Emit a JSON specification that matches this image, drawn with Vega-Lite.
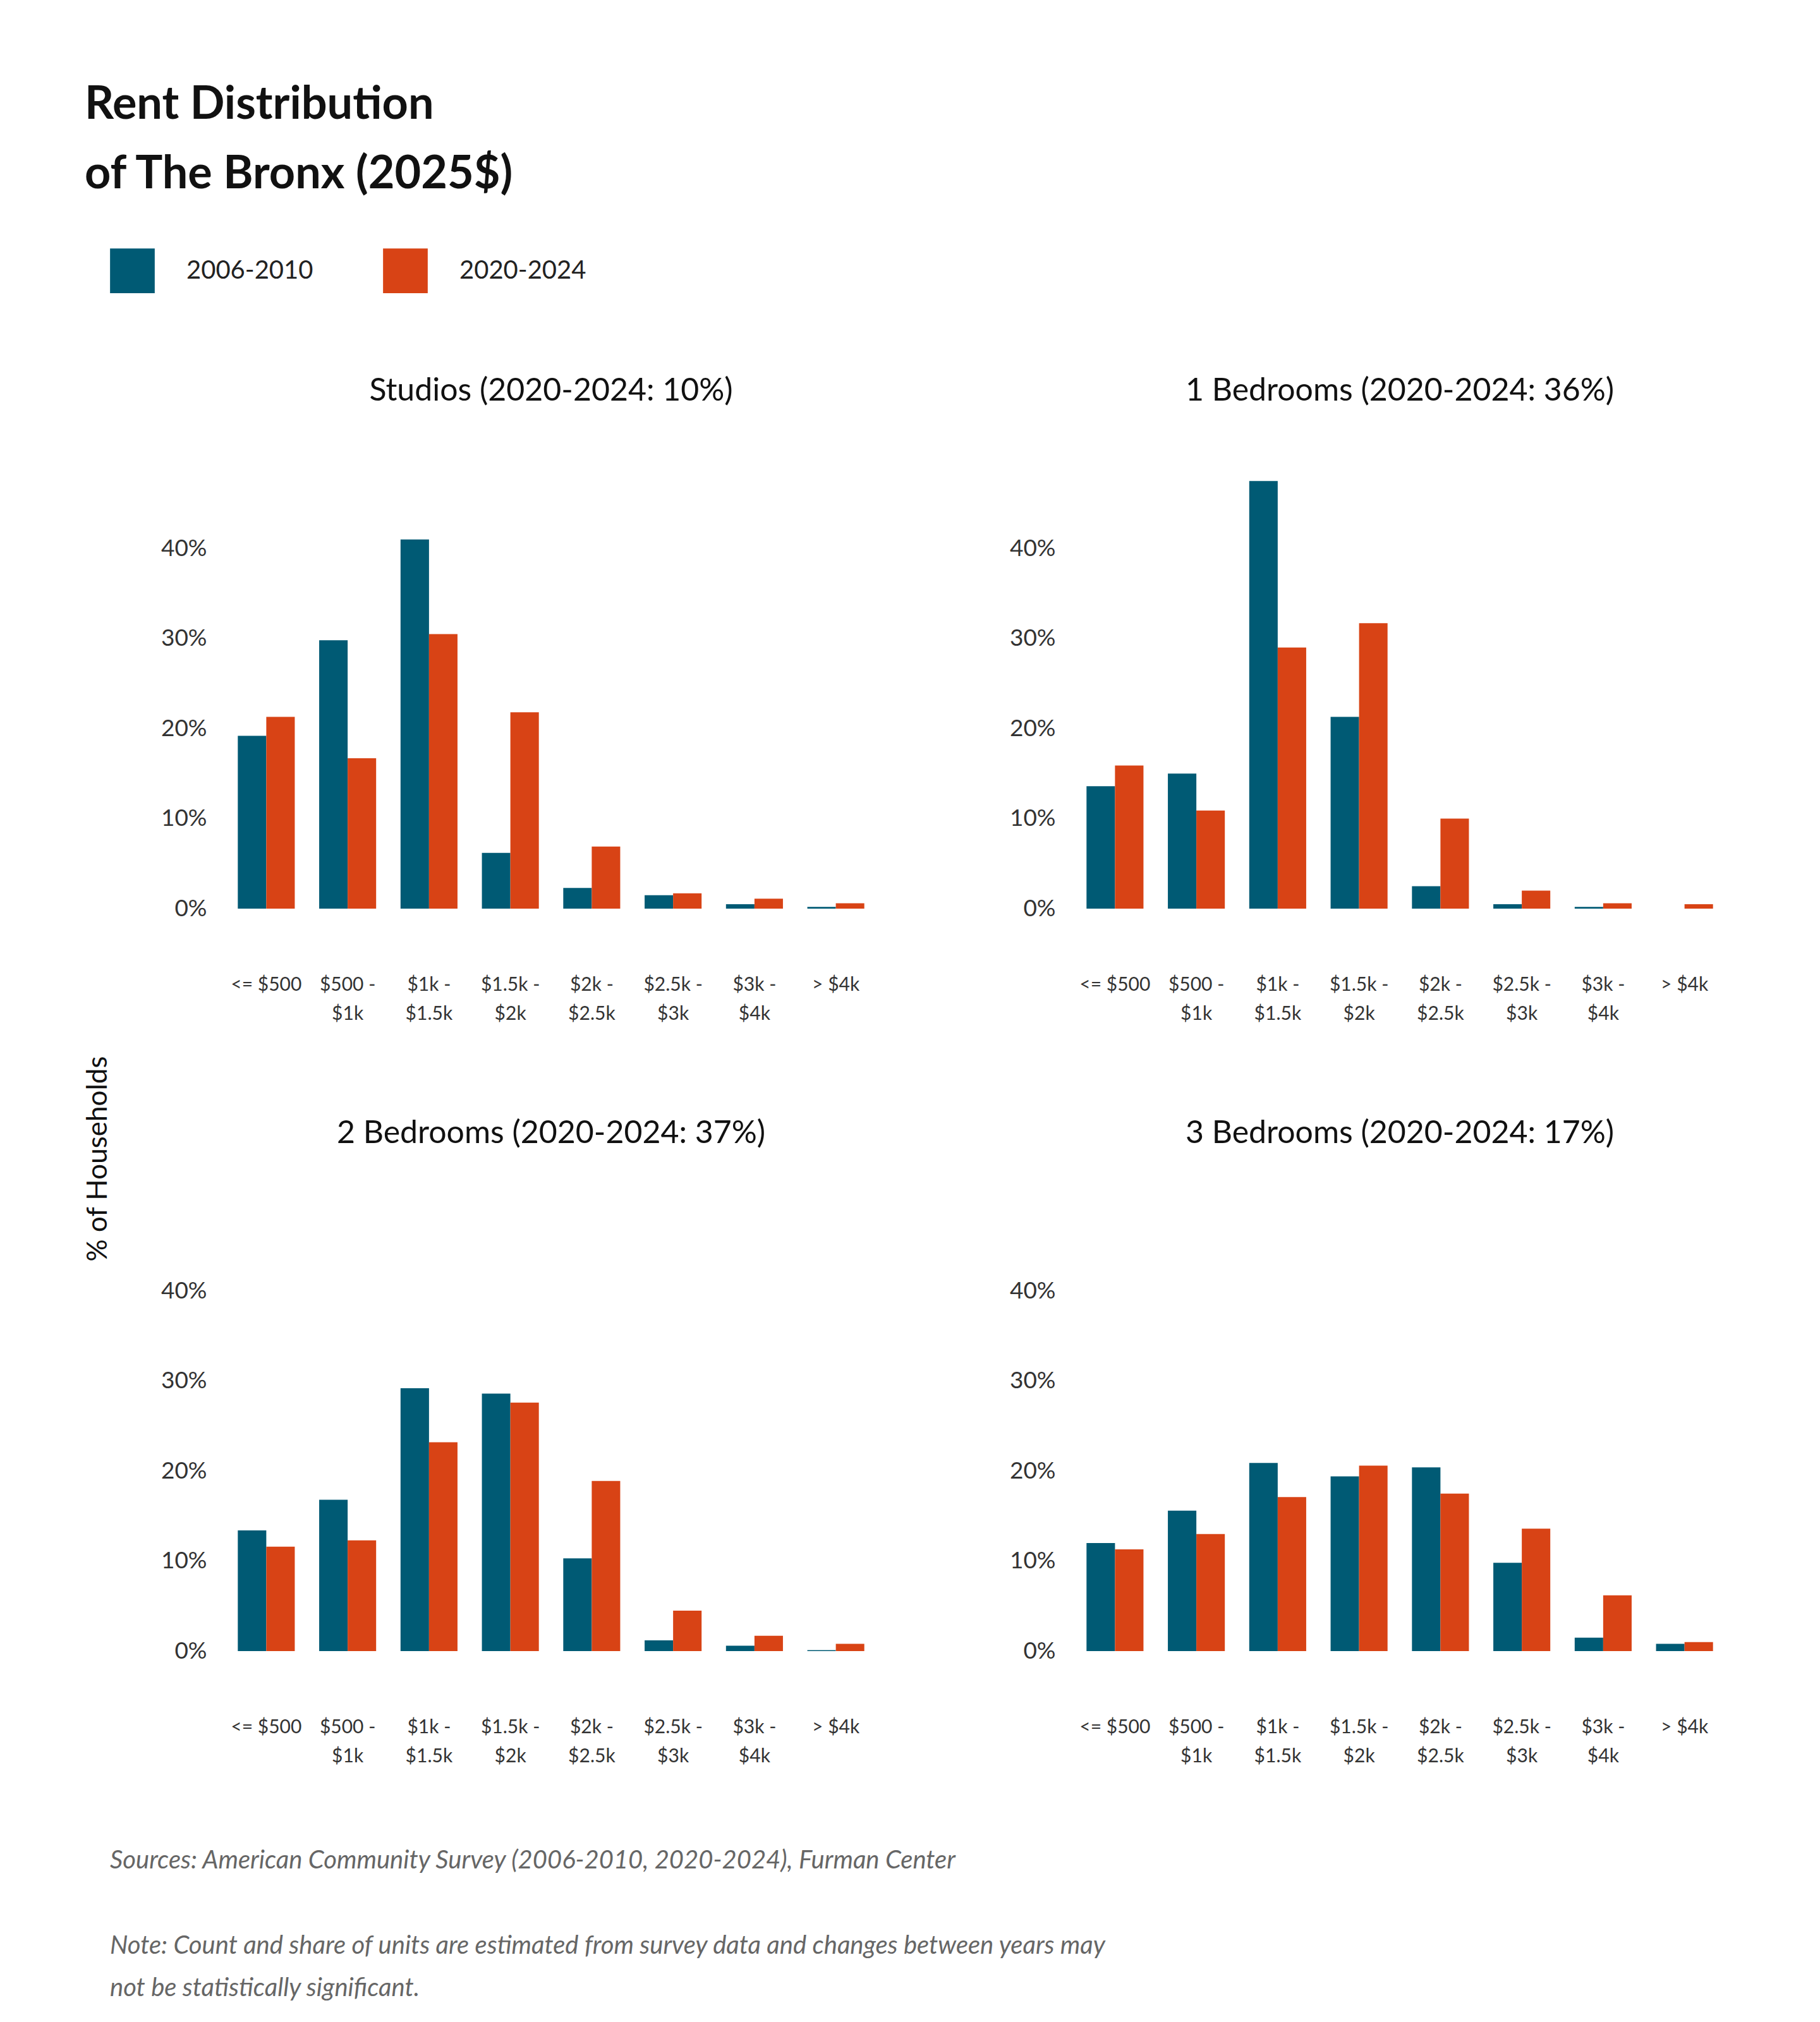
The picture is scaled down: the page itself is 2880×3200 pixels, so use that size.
{
  "$schema": "https://vega.github.io/schema/vega-lite/v6.json",
  "padding": {"left": 134, "top": 130, "right": 60, "bottom": 60},
  "background": "white",
  "title": {
    "text": ["Rent Distribution", "of The Bronx (2025$)"],
    "anchor": "start",
    "font": "Lato",
    "fontWeight": "bold",
    "fontSize": 72,
    "lineHeight": 110,
    "color": "#111111",
    "offset": 80
  },
  "config": {
    "font": "Lato",
    "view": {"stroke": null},
    "legend": {
      "orient": "top",
      "direction": "horizontal",
      "title": null,
      "symbolType": "square",
      "symbolSize": 5000,
      "symbolStrokeWidth": 0,
      "labelFontSize": 40,
      "labelColor": "#222222",
      "labelFont": "Lato",
      "labelLimit": 400,
      "columnPadding": 110,
      "labelOffset": 50,
      "offset": 130
    }
  },
  "datasets": {
    "rent": [
      {"panel": "Studios (2020-2024: 10%)", "bin": "<= $500", "period": "2006-2010", "share": 0.192},
      {"panel": "Studios (2020-2024: 10%)", "bin": "$500 - $1k", "period": "2006-2010", "share": 0.298},
      {"panel": "Studios (2020-2024: 10%)", "bin": "$1k - $1.5k", "period": "2006-2010", "share": 0.41},
      {"panel": "Studios (2020-2024: 10%)", "bin": "$1.5k - $2k", "period": "2006-2010", "share": 0.062},
      {"panel": "Studios (2020-2024: 10%)", "bin": "$2k - $2.5k", "period": "2006-2010", "share": 0.023},
      {"panel": "Studios (2020-2024: 10%)", "bin": "$2.5k - $3k", "period": "2006-2010", "share": 0.015},
      {"panel": "Studios (2020-2024: 10%)", "bin": "$3k - $4k", "period": "2006-2010", "share": 0.005},
      {"panel": "Studios (2020-2024: 10%)", "bin": "> $4k", "period": "2006-2010", "share": 0.002},
      {"panel": "Studios (2020-2024: 10%)", "bin": "<= $500", "period": "2020-2024", "share": 0.213},
      {"panel": "Studios (2020-2024: 10%)", "bin": "$500 - $1k", "period": "2020-2024", "share": 0.167},
      {"panel": "Studios (2020-2024: 10%)", "bin": "$1k - $1.5k", "period": "2020-2024", "share": 0.305},
      {"panel": "Studios (2020-2024: 10%)", "bin": "$1.5k - $2k", "period": "2020-2024", "share": 0.218},
      {"panel": "Studios (2020-2024: 10%)", "bin": "$2k - $2.5k", "period": "2020-2024", "share": 0.069},
      {"panel": "Studios (2020-2024: 10%)", "bin": "$2.5k - $3k", "period": "2020-2024", "share": 0.017},
      {"panel": "Studios (2020-2024: 10%)", "bin": "$3k - $4k", "period": "2020-2024", "share": 0.011},
      {"panel": "Studios (2020-2024: 10%)", "bin": "> $4k", "period": "2020-2024", "share": 0.006},
      {"panel": "1 Bedrooms (2020-2024: 36%)", "bin": "<= $500", "period": "2006-2010", "share": 0.136},
      {"panel": "1 Bedrooms (2020-2024: 36%)", "bin": "$500 - $1k", "period": "2006-2010", "share": 0.15},
      {"panel": "1 Bedrooms (2020-2024: 36%)", "bin": "$1k - $1.5k", "period": "2006-2010", "share": 0.475},
      {"panel": "1 Bedrooms (2020-2024: 36%)", "bin": "$1.5k - $2k", "period": "2006-2010", "share": 0.213},
      {"panel": "1 Bedrooms (2020-2024: 36%)", "bin": "$2k - $2.5k", "period": "2006-2010", "share": 0.025},
      {"panel": "1 Bedrooms (2020-2024: 36%)", "bin": "$2.5k - $3k", "period": "2006-2010", "share": 0.005},
      {"panel": "1 Bedrooms (2020-2024: 36%)", "bin": "$3k - $4k", "period": "2006-2010", "share": 0.002},
      {"panel": "1 Bedrooms (2020-2024: 36%)", "bin": "> $4k", "period": "2006-2010", "share": 0.0},
      {"panel": "1 Bedrooms (2020-2024: 36%)", "bin": "<= $500", "period": "2020-2024", "share": 0.159},
      {"panel": "1 Bedrooms (2020-2024: 36%)", "bin": "$500 - $1k", "period": "2020-2024", "share": 0.109},
      {"panel": "1 Bedrooms (2020-2024: 36%)", "bin": "$1k - $1.5k", "period": "2020-2024", "share": 0.29},
      {"panel": "1 Bedrooms (2020-2024: 36%)", "bin": "$1.5k - $2k", "period": "2020-2024", "share": 0.317},
      {"panel": "1 Bedrooms (2020-2024: 36%)", "bin": "$2k - $2.5k", "period": "2020-2024", "share": 0.1},
      {"panel": "1 Bedrooms (2020-2024: 36%)", "bin": "$2.5k - $3k", "period": "2020-2024", "share": 0.02},
      {"panel": "1 Bedrooms (2020-2024: 36%)", "bin": "$3k - $4k", "period": "2020-2024", "share": 0.006},
      {"panel": "1 Bedrooms (2020-2024: 36%)", "bin": "> $4k", "period": "2020-2024", "share": 0.005},
      {"panel": "2 Bedrooms (2020-2024: 37%)", "bin": "<= $500", "period": "2006-2010", "share": 0.134},
      {"panel": "2 Bedrooms (2020-2024: 37%)", "bin": "$500 - $1k", "period": "2006-2010", "share": 0.168},
      {"panel": "2 Bedrooms (2020-2024: 37%)", "bin": "$1k - $1.5k", "period": "2006-2010", "share": 0.292},
      {"panel": "2 Bedrooms (2020-2024: 37%)", "bin": "$1.5k - $2k", "period": "2006-2010", "share": 0.286},
      {"panel": "2 Bedrooms (2020-2024: 37%)", "bin": "$2k - $2.5k", "period": "2006-2010", "share": 0.103},
      {"panel": "2 Bedrooms (2020-2024: 37%)", "bin": "$2.5k - $3k", "period": "2006-2010", "share": 0.012},
      {"panel": "2 Bedrooms (2020-2024: 37%)", "bin": "$3k - $4k", "period": "2006-2010", "share": 0.006},
      {"panel": "2 Bedrooms (2020-2024: 37%)", "bin": "> $4k", "period": "2006-2010", "share": 0.001},
      {"panel": "2 Bedrooms (2020-2024: 37%)", "bin": "<= $500", "period": "2020-2024", "share": 0.116},
      {"panel": "2 Bedrooms (2020-2024: 37%)", "bin": "$500 - $1k", "period": "2020-2024", "share": 0.123},
      {"panel": "2 Bedrooms (2020-2024: 37%)", "bin": "$1k - $1.5k", "period": "2020-2024", "share": 0.232},
      {"panel": "2 Bedrooms (2020-2024: 37%)", "bin": "$1.5k - $2k", "period": "2020-2024", "share": 0.276},
      {"panel": "2 Bedrooms (2020-2024: 37%)", "bin": "$2k - $2.5k", "period": "2020-2024", "share": 0.189},
      {"panel": "2 Bedrooms (2020-2024: 37%)", "bin": "$2.5k - $3k", "period": "2020-2024", "share": 0.045},
      {"panel": "2 Bedrooms (2020-2024: 37%)", "bin": "$3k - $4k", "period": "2020-2024", "share": 0.017},
      {"panel": "2 Bedrooms (2020-2024: 37%)", "bin": "> $4k", "period": "2020-2024", "share": 0.008},
      {"panel": "3 Bedrooms (2020-2024: 17%)", "bin": "<= $500", "period": "2006-2010", "share": 0.12},
      {"panel": "3 Bedrooms (2020-2024: 17%)", "bin": "$500 - $1k", "period": "2006-2010", "share": 0.156},
      {"panel": "3 Bedrooms (2020-2024: 17%)", "bin": "$1k - $1.5k", "period": "2006-2010", "share": 0.209},
      {"panel": "3 Bedrooms (2020-2024: 17%)", "bin": "$1.5k - $2k", "period": "2006-2010", "share": 0.194},
      {"panel": "3 Bedrooms (2020-2024: 17%)", "bin": "$2k - $2.5k", "period": "2006-2010", "share": 0.204},
      {"panel": "3 Bedrooms (2020-2024: 17%)", "bin": "$2.5k - $3k", "period": "2006-2010", "share": 0.098},
      {"panel": "3 Bedrooms (2020-2024: 17%)", "bin": "$3k - $4k", "period": "2006-2010", "share": 0.015},
      {"panel": "3 Bedrooms (2020-2024: 17%)", "bin": "> $4k", "period": "2006-2010", "share": 0.008},
      {"panel": "3 Bedrooms (2020-2024: 17%)", "bin": "<= $500", "period": "2020-2024", "share": 0.113},
      {"panel": "3 Bedrooms (2020-2024: 17%)", "bin": "$500 - $1k", "period": "2020-2024", "share": 0.13},
      {"panel": "3 Bedrooms (2020-2024: 17%)", "bin": "$1k - $1.5k", "period": "2020-2024", "share": 0.171},
      {"panel": "3 Bedrooms (2020-2024: 17%)", "bin": "$1.5k - $2k", "period": "2020-2024", "share": 0.206},
      {"panel": "3 Bedrooms (2020-2024: 17%)", "bin": "$2k - $2.5k", "period": "2020-2024", "share": 0.175},
      {"panel": "3 Bedrooms (2020-2024: 17%)", "bin": "$2.5k - $3k", "period": "2020-2024", "share": 0.136},
      {"panel": "3 Bedrooms (2020-2024: 17%)", "bin": "$3k - $4k", "period": "2020-2024", "share": 0.062},
      {"panel": "3 Bedrooms (2020-2024: 17%)", "bin": "> $4k", "period": "2020-2024", "share": 0.01}
    ],
    "notes": [
      {"line": 1, "text": "Sources: American Community Survey (2006-2010, 2020-2024), Furman Center"},
      {"line": 2, "text": ""},
      {"line": 3, "text": "Note: Count and share of units are estimated from survey data and changes between years may"},
      {"line": 4, "text": "not be statistically significant."}
    ],
    "ylab": [{"t": "% of Households"}]
  },
  "vconcat": [
    {
      "hconcat": [
        {
          "width": 40,
          "height": 2160,
          "data": {"name": "ylab"},
          "mark": {"type": "text", "angle": 270, "fontSize": 44, "font": "Lato", "color": "#111111", "baseline": "top", "dy": -60},
          "encoding": {"text": {"field": "t"}}
        },
        {
          "data": {"name": "rent"},
          "facet": {
            "field": "panel",
            "type": "nominal",
            "sort": ["Studios (2020-2024: 10%)", "1 Bedrooms (2020-2024: 36%)", "2 Bedrooms (2020-2024: 37%)", "3 Bedrooms (2020-2024: 17%)"],
            "header": {"title": null, "labelFontSize": 50, "labelFont": "Lato", "labelColor": "#111111", "labelPadding": 110}
          },
          "columns": 2,
          "spacing": {"column": 210, "row": 150},
          "resolve": {"axis": {"x": "independent", "y": "independent"}},
          "spec": {
            "width": 1030,
            "height": 684,
            "mark": {"type": "bar"},
            "encoding": {
              "x": {
                "field": "bin",
                "type": "nominal",
                "sort": ["<= $500", "$500 - $1k", "$1k - $1.5k", "$1.5k - $2k", "$2k - $2.5k", "$2.5k - $3k", "$3k - $4k", "> $4k"],
                "scale": {"paddingInner": 0.3, "paddingOuter": 0.15},
                "axis": {
                  "title": null, "labelAngle": 0, "domain": false, "ticks": false,
                  "labelFontSize": 30, "labelColor": "#333333", "labelPadding": 120,
                  "labelBaseline": "middle", "labelLineHeight": 46,
                  "labelExpr": "indexof(datum.label, ' - ') > 0 ? [split(datum.label, ' - ')[0] + ' -', split(datum.label, ' - ')[1]] : datum.label"
                }
              },
              "xOffset": {"field": "period", "type": "nominal"},
              "y": {
                "field": "share",
                "type": "quantitative",
                "scale": {"domain": [0, 0.48], "nice": false},
                "axis": {
                  "title": null, "format": ".0%", "values": [0, 0.1, 0.2, 0.3, 0.4],
                  "grid": false, "domain": false, "ticks": false,
                  "labelFontSize": 37, "labelColor": "#333333", "labelPadding": 30
                }
              },
              "color": {
                "field": "period",
                "type": "nominal",
                "scale": {"domain": ["2006-2010", "2020-2024"], "range": ["#005a74", "#d84315"]}
              }
            }
          }
        }
      ],
      "spacing": 40
    },
    {
      "width": 2500,
      "height": 230,
      "data": {"name": "notes"},
      "mark": {"type": "text", "align": "left", "fontSize": 40, "font": "Lato", "fontStyle": "italic", "color": "#666666"},
      "encoding": {
        "y": {"field": "line", "type": "ordinal", "axis": null, "scale": {"padding": 0.2}},
        "x": {"value": 0},
        "text": {"field": "text"}
      }
    }
  ],
  "spacing": 10
}
